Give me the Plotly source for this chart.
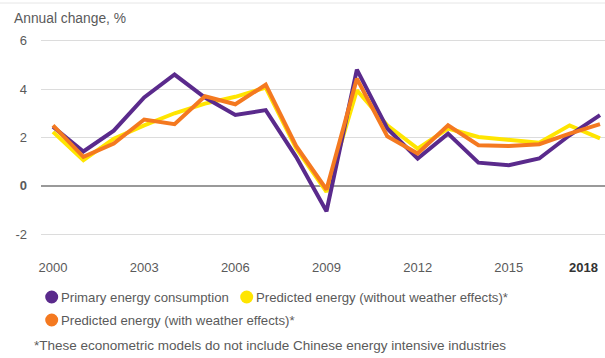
import plotly.graph_objects as go

years = list(range(2000, 2019))
primary = [2.44, 1.42, 2.28, 3.65, 4.6, 3.65, 2.93, 3.13, 1.2, -1.05, 4.8, 2.37, 1.13, 2.16, 0.96, 0.85, 1.13, 2.09, 2.92]
pred_no_weather = [2.23, 1.06, 1.95, 2.5, 3.0, 3.4, 3.68, 4.06, 1.55, -0.25, 3.95, 2.5, 1.54, 2.37, 2.02, 1.89, 1.78, 2.5, 1.96]
pred_weather = [2.5, 1.2, 1.75, 2.74, 2.55, 3.7, 3.37, 4.18, 1.65, -0.15, 4.43, 2.05, 1.34, 2.5, 1.68, 1.65, 1.72, 2.16, 2.55]

series_names = ["Primary energy consumption",
                "Predicted energy (without weather effects)*",
                "Predicted energy (with weather effects)*"]
x_ticks = [2000, 2003, 2006, 2009, 2012, 2015]
last_tick = "2018"
y_ticks = [-2, 0, 2, 4, 6]
y_ticktext = ["-2", "<b>0</b>", "2", "4", "6"]
title_text = "Annual change, %"
footnote = "*These econometric models do not include Chinese energy intensive industries"

PURPLE = "#5a2a8c"
YELLOW = "#ffe500"
ORANGE = "#f47920"
TEXT = "#5a5a5a"
FONT = "Liberation Sans, Arial, sans-serif"

# plot area geometry (pixels)
W, H = 605, 358
L, R, T, B = 41, 0, 30, 108
PW, PH = W - L - R, H - T - B

def px(x):
    return (x - L) / PW

def py(y):
    return (H - B - y) / PH

fig = go.Figure()
fig.add_trace(go.Scatter(x=years, y=pred_no_weather, mode="lines", name=series_names[1],
                         line=dict(color=YELLOW, width=4), showlegend=False))
fig.add_trace(go.Scatter(x=years, y=primary, mode="lines", name=series_names[0],
                         line=dict(color=PURPLE, width=4), showlegend=False))
fig.add_trace(go.Scatter(x=years, y=pred_weather, mode="lines", name=series_names[2],
                         line=dict(color=ORANGE, width=4), showlegend=False))

shapes = []
annotations = []

# top rule
shapes.append(dict(type="line", xref="paper", yref="paper", x0=px(0), x1=1, y0=py(3), y1=py(3),
                   line=dict(color="#e6e6e6", width=1)))

# title
annotations.append(dict(text=title_text, xref="paper", yref="paper", x=px(12), y=py(18.5),
                        xanchor="left", yanchor="middle", showarrow=False,
                        font=dict(family=FONT, size=13.8, color=TEXT)))

# last x label (bold, right-aligned to fit)
annotations.append(dict(text="<b>" + last_tick + "</b>", xref="x", yref="paper", x=years[-1], y=py(267),
                        xanchor="right", yanchor="middle", showarrow=False,
                        font=dict(family=FONT, size=13, color="#333333")))

# custom legend
legend_items = [(series_names[0], PURPLE, 51.7, 297),
                (series_names[1], YELLOW, 246.7, 297),
                (series_names[2], ORANGE, 51.7, 320)]
for name, col, cx, cy in legend_items:
    shapes.append(dict(type="circle", xref="paper", yref="paper", xsizemode="pixel", ysizemode="pixel",
                       xanchor=px(cx), yanchor=py(cy), x0=-6.5, x1=6.5, y0=-6.5, y1=6.5,
                       fillcolor=col, line=dict(width=0)))
    annotations.append(dict(text=name, xref="paper", yref="paper", x=px(cx + 7.5), y=py(cy),
                            xanchor="left", yanchor="middle", showarrow=False,
                            font=dict(family=FONT, size=13.2, color=TEXT)))

annotations.append(dict(text=footnote, xref="paper", yref="paper", x=px(32), y=py(345),
                        xanchor="left", yanchor="middle", showarrow=False,
                        font=dict(family=FONT, size=13.5, color=TEXT)))

fig.update_layout(
    width=W, height=H,
    margin=dict(l=L, r=R, t=T, b=B, autoexpand=False),
    paper_bgcolor="white", plot_bgcolor="white",
    showlegend=False,
    font=dict(family=FONT, size=13, color=TEXT),
    xaxis=dict(range=[1999.605, 2018.165], tickvals=x_ticks, ticktext=[str(v) for v in x_ticks],
               showgrid=False, zeroline=False, showline=False, ticks="",
               ticklabelstandoff=8, fixedrange=True),
    yaxis=dict(range=[-2.65, 6.44], tickvals=y_ticks, ticktext=y_ticktext,
               showgrid=True, gridcolor="#dcdcdc", gridwidth=1,
               zeroline=True, zerolinecolor="#999999", zerolinewidth=1.5,
               showline=False, ticks="", ticklabelstandoff=13, fixedrange=True),
    shapes=shapes, annotations=annotations,
)

fig.write_html("out.html")
